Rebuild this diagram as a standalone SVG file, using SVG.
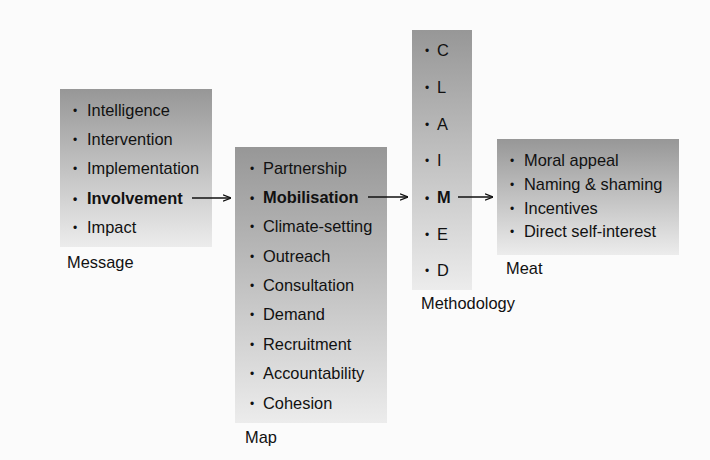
<svg xmlns="http://www.w3.org/2000/svg" width="710" height="460" viewBox="0 0 710 460">
<defs>
<linearGradient id="g" x1="0" y1="0" x2="0" y2="1">
<stop offset="0" stop-color="#979797"/>
<stop offset="1" stop-color="#ececec"/>
</linearGradient>
<marker id="ah" viewBox="0 0 10 10" refX="10" refY="5" markerWidth="8" markerHeight="8" markerUnits="userSpaceOnUse" orient="auto">
<path d="M0,1 L10,5 L0,9" fill="none" stroke="#111" stroke-width="1.6"/>
</marker>
<style>
text{font-family:"Liberation Sans",Arial,sans-serif;font-size:16.4px;fill:#111}
.b{font-weight:bold}
.d{font-size:12px}
.box{fill:url(#g)}
.c{stroke:#111;stroke-width:1.5;fill:none;marker-end:url(#ah)}
</style>
</defs>
<rect width="710" height="460" fill="#fbfbfb"/>
<g id="message">
<rect class="box" x="60" y="89" width="152" height="158"/>
<text x="73" y="115" class="d">•</text><text x="87" y="116">Intelligence</text>
<text x="73" y="144" class="d">•</text><text x="87" y="145">Intervention</text>
<text x="73" y="173" class="d">•</text><text x="87" y="174">Implementation</text>
<text x="73" y="203" class="d b">•</text><text x="87" y="204" class="b">Involvement</text>
<text x="73" y="232" class="d">•</text><text x="87" y="233">Impact</text>
<text x="67" y="268">Message</text>
</g>
<g id="map">
<rect class="box" x="235" y="147" width="152" height="276"/>
<text x="250" y="173" class="d">•</text><text x="263" y="174">Partnership</text>
<text x="250" y="202" class="d b">•</text><text x="263" y="203" class="b">Mobilisation</text>
<text x="250" y="231" class="d">•</text><text x="263" y="232">Climate-setting</text>
<text x="250" y="261" class="d">•</text><text x="263" y="262">Outreach</text>
<text x="250" y="290" class="d">•</text><text x="263" y="291">Consultation</text>
<text x="250" y="319" class="d">•</text><text x="263" y="320">Demand</text>
<text x="250" y="349" class="d">•</text><text x="263" y="350">Recruitment</text>
<text x="250" y="378" class="d">•</text><text x="263" y="379">Accountability</text>
<text x="250" y="408" class="d">•</text><text x="263" y="409">Cohesion</text>
<text x="245" y="443">Map</text>
</g>
<g id="methodology">
<rect class="box" x="412" y="30" width="60" height="260"/>
<text x="425" y="55" class="d">•</text><text x="437" y="56">C</text>
<text x="425" y="92" class="d">•</text><text x="437" y="93">L</text>
<text x="425" y="129" class="d">•</text><text x="437" y="130">A</text>
<text x="425" y="165" class="d">•</text><text x="437" y="166">I</text>
<text x="425" y="202" class="d b">•</text><text x="437" y="203" class="b">M</text>
<text x="425" y="239" class="d">•</text><text x="437" y="240">E</text>
<text x="425" y="275" class="d">•</text><text x="437" y="276">D</text>
<text x="421" y="309">Methodology</text>
</g>
<g id="meat">
<rect class="box" x="497" y="139" width="182" height="116"/>
<text x="510" y="165" class="d">•</text><text x="524" y="166">Moral appeal</text>
<text x="510" y="189" class="d">•</text><text x="524" y="190">Naming &amp; shaming</text>
<text x="510" y="213" class="d">•</text><text x="524" y="214">Incentives</text>
<text x="510" y="236" class="d">•</text><text x="524" y="237">Direct self-interest</text>
<text x="506" y="274">Meat</text>
</g>
<g id="connectors">
<line class="c" x1="192" y1="198" x2="231" y2="198"/>
<line class="c" x1="368" y1="197" x2="408" y2="197"/>
<line class="c" x1="458" y1="197" x2="493" y2="197"/>
</g>
</svg>
